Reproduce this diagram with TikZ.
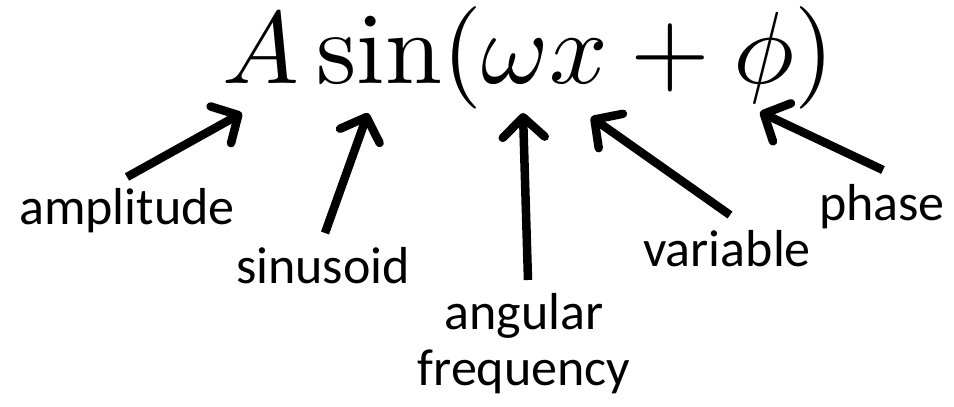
\documentclass[tikz,border=0pt]{standalone}
\usepackage{graphicx}
\usepackage{fontspec}
\setsansfont{Carlito}
\usetikzlibrary{arrows.meta}
\begin{document}
\begin{tikzpicture}[x=1pt,y=-1pt,
  lbl/.style={font=\sffamily\fontsize{52}{56}\selectfont,inner sep=0pt,align=center},
  arr/.style={line width=8.5pt,-{Straight Barb[length=20pt,width=42pt,line cap=round,line join=round]}}]
\useasboundingbox (0,0) rectangle (954,407);
\node[anchor=base west,inner sep=0pt] (eq) at (222,83)
  {\scalebox{10.25}{$A\sin(\omega x+\phi)$}};
\node[lbl] (amp) at (127,211) {amplitude};
\node[lbl] (sin) at (323,266) {sinusoid};
\node[lbl] (ang) at (524,344) {angular\\frequency};
\node[lbl] (var) at (727,249) {variable};
\node[lbl] (pha) at (882,207) {phase};
\coordinate (tA) at (242,113);
\coordinate (tS) at (368,113);
\coordinate (tW) at (523,113);
\coordinate (tX) at (591,117);
\coordinate (tP) at (760,112);
\coordinate (sA) at (127,177);
\coordinate (sS) at (325,233);
\coordinate (sW) at (528,280);
\coordinate (sX) at (730,215);
\coordinate (sP) at (883,170);
\draw[arr] (sA) -- (tA);
\draw[arr] (sS) -- (tS);
\draw[arr] (sW) -- (tW);
\draw[arr] (sX) -- (tX);
\draw[arr] (sP) -- (tP);
\end{tikzpicture}
\end{document}
